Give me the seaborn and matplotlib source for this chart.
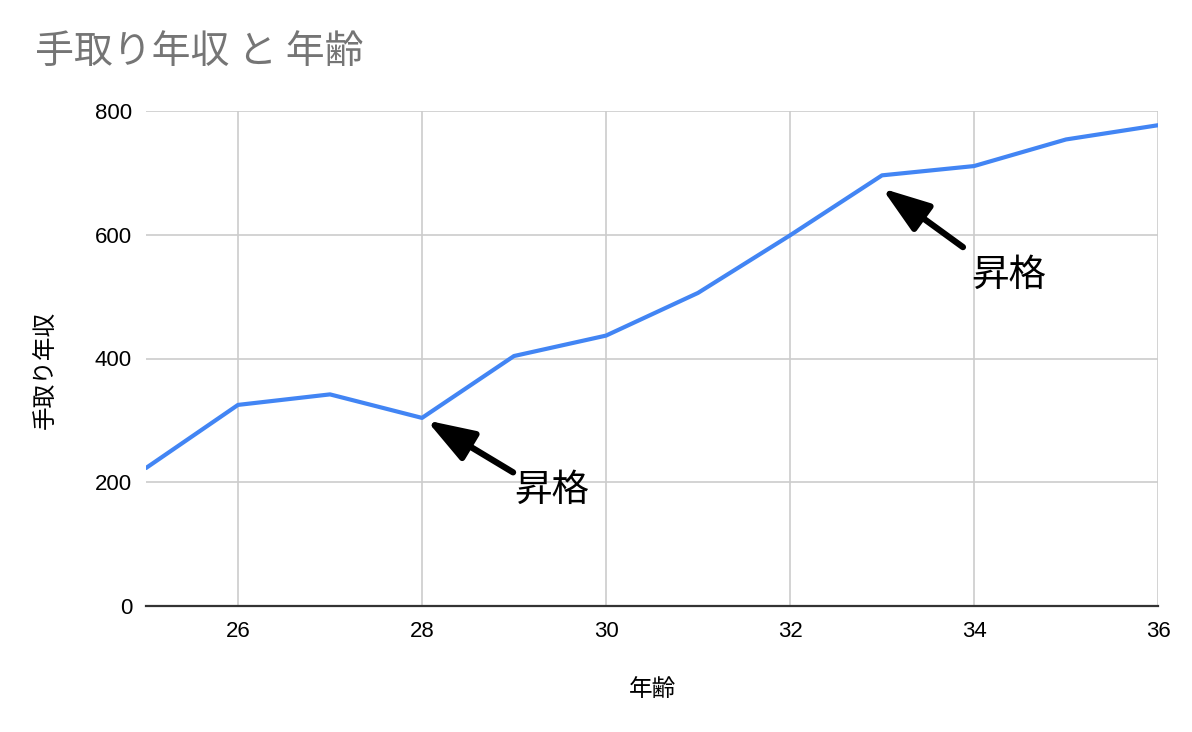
import matplotlib
matplotlib.use("Agg")
import matplotlib.pyplot as plt
import seaborn as sns
import pandas as pd

# data
ages = [25, 26, 27, 28, 29, 30, 31, 32, 33, 34, 35, 36]
income = [223, 325, 342, 304, 404, 437, 506, 599, 696, 711, 754, 777]
x_ticks = [26, 28, 30, 32, 34, 36]
y_ticks = [0, 200, 400, 600, 800]
title = "手取り年収 と 年齢"
x_label = "年齢"
y_label = "手取り年収"
notes = ["昇格", "昇格"]
note_tip_x = [28.05, 33.0]
note_tip_y = [300, 675]
note_tail_x = [28.99, 33.88]
note_tail_y = [216, 580]
note_text_x = [29.0, 33.97]
note_text_y = [187, 535]

sns.set_theme(style="white")
plt.rcParams['font.family'] = ['Noto Sans CJK JP', 'Liberation Sans', 'DejaVu Sans']

df = pd.DataFrame({"age": ages, "income": income})

fig = plt.figure(figsize=(11.92, 7.32), dpi=100)
ax = fig.add_axes([146/1192, 1 - 606/732, (1158-146)/1192, (606-111)/732])

sns.lineplot(data=df, x="age", y="income", ax=ax, color="#4285F4", linewidth=3.0, zorder=3)

ax.set_xlim(25, 36)
ax.set_ylim(0, 800)
ax.set_xticks(x_ticks)
ax.set_yticks(y_ticks)
ax.set_xticklabels([str(t) for t in x_ticks], fontsize=16, family=['Liberation Sans'])
ax.set_yticklabels([str(t) for t in y_ticks], fontsize=16, family=['Liberation Sans'])
ax.tick_params(axis='both', length=0, colors='#000000')
ax.tick_params(axis='x', pad=11)
ax.tick_params(axis='y', pad=10)

ax.grid(True, color="#cccccc", linewidth=1.2)
ax.set_axisbelow(True)
for s in ["left", "right", "top"]:
    ax.spines[s].set_visible(False)
ax.spines["bottom"].set_color("#333333")
ax.spines["bottom"].set_linewidth(1.6)
ax.spines["bottom"].set_zorder(4)

ax.set_xlabel(x_label, fontsize=17, color="#000000", va="center")
ax.set_ylabel(y_label, fontsize=17, color="#000000", va="center")
ax.xaxis.set_label_coords((652 - 146) / 1012, (606 - 689) / 495)
ax.yaxis.set_label_coords((45 - 146) / 1012, (606 - 370) / 495)

fig.text(35/1192, 1 - 52/732, title, fontsize=28, color="#757575", ha="left", va="center")

for t, tx, ty, hx, hy, lx, ly in zip(notes, note_tip_x, note_tip_y, note_tail_x, note_tail_y,
                                     note_text_x, note_text_y):
    ax.annotate("", xy=(tx, ty), xytext=(hx, hy),
                arrowprops=dict(arrowstyle="-|>,head_length=1.45,head_width=0.5",
                                mutation_scale=20, color="black", lw=4.5,
                                shrinkA=0, shrinkB=0), zorder=5)
    ax.text(lx, ly, t, fontsize=27, color="black", ha="left", va="center", zorder=5)

fig.savefig("out.png", dpi=100)
